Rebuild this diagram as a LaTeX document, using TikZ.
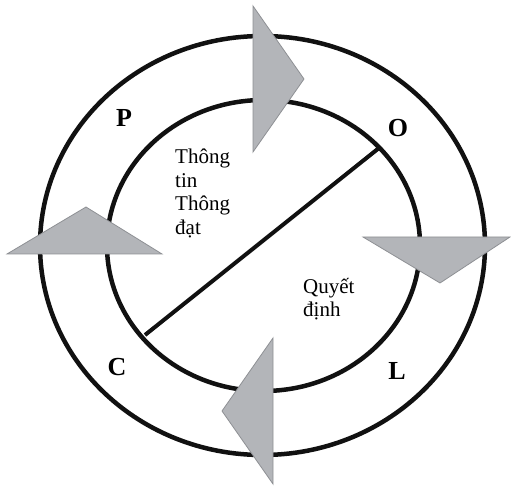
\documentclass[tikz,border=0pt]{standalone}
\usepackage{fontspec}
\setmainfont{Liberation Serif}
\usepackage{tikz}
\usetikzlibrary{positioning,calc}
\definecolor{ringblack}{HTML}{111111}
\definecolor{arrowgrey}{HTML}{B3B5B9}
\definecolor{arrowedge}{HTML}{8E9094}

\begin{document}
\begin{tikzpicture}[x=1pt,y=-1pt,
  ring/.style={draw=ringblack,line width=4.5pt},
  flowarrow/.style={fill=arrowgrey,draw=arrowedge,line width=0.8pt,line join=miter},
  phase/.style={font=\fontsize{26}{30}\selectfont\bfseries,inner sep=0pt},
  areatext/.style={font=\fontsize{21}{23.5}\selectfont,align=left,inner sep=0pt,anchor=north west}]
\useasboundingbox (0,0) rectangle (511,486);
% rings
\draw[ring] (262.5,245.5) ellipse [x radius=222.5pt,y radius=209.5pt];
\draw[ring] (263.5,245.5) ellipse [x radius=156.5pt,y radius=145.5pt];
% divider
\coordinate (cut-a) at (145,335);
\coordinate (cut-b) at (379,148);
\draw[ringblack,line width=4pt] (cut-a) -- (cut-b);
% arrows round the cycle
\draw[flowarrow] (253,6) -- (304,79) -- (253,152) -- cycle;
\draw[flowarrow] (363,237) -- (510,237) -- (440,283) -- cycle;
\draw[flowarrow] (273,338) -- (273,484) -- (222,411) -- cycle;
\draw[flowarrow] (162,254) -- (7,254) -- (86,207) -- cycle;
% letters
\node[phase] (P) at (124,118) {P};
\node[phase] (O) at (398,128) {O};
\node[phase] (L) at (397,371) {L};
\node[phase] (C) at (117,367) {C};
% texts
\node[areatext] (info) at (175,149) {Thông\\tin\\Thông\\đạt};
\node[areatext] (decide) at (303,278) {Quyết\\định};
\end{tikzpicture}
\end{document}
